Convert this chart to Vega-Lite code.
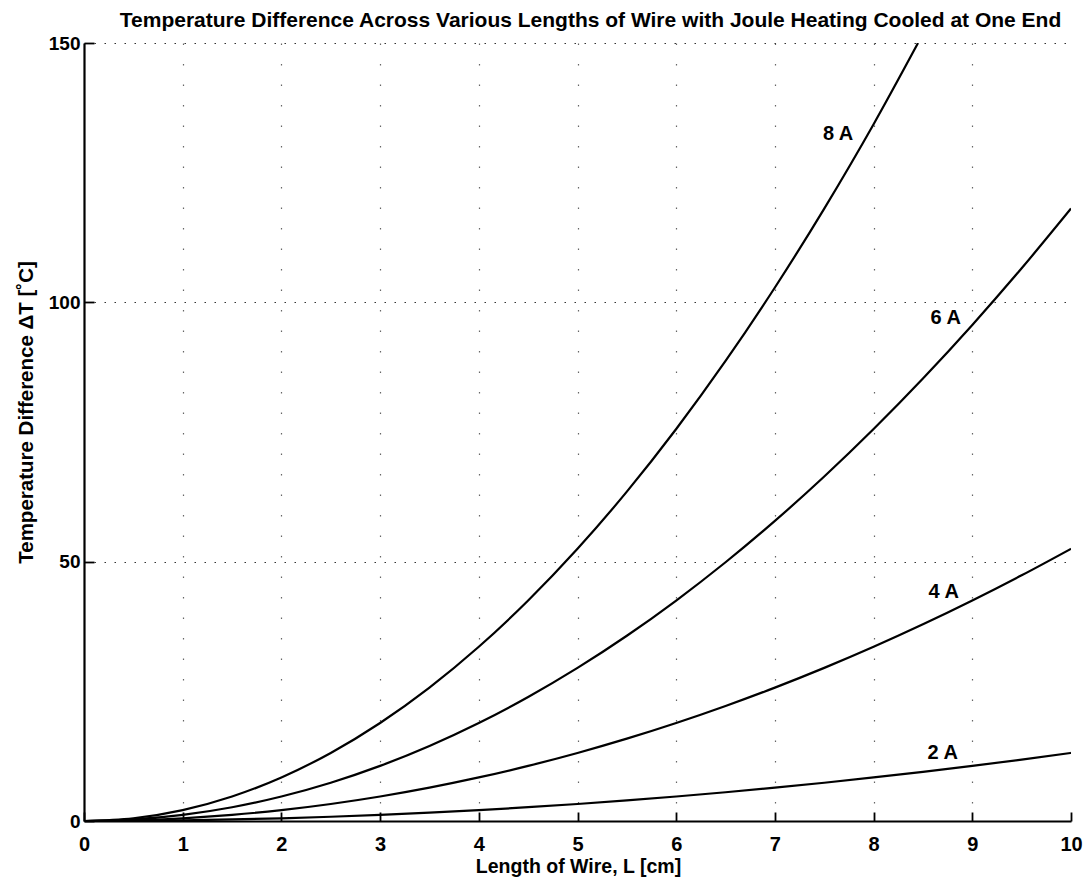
{
  "$schema": "https://vega.github.io/schema/vega-lite/v6.json",
  "width": 987,
  "height": 778,
  "autosize": {"type": "none"},
  "padding": {"left": 84, "top": 43, "right": 16, "bottom": 60},
  "background": "white",
  "config": {
    "view": {"stroke": null},
    "font": "Liberation Sans"
  },
  "title": {
    "text": "Temperature Difference Across Various Lengths of Wire with Joule Heating Cooled at One End",
    "font": "Liberation Sans",
    "fontSize": 21,
    "fontWeight": "bold",
    "color": "black",
    "offset": 3,
    "dx": 13
  },
  "datasets": {
    "curves": [
      {"I": "2 A", "L": 0, "T": 0}, {"I": "2 A", "L": 0.5, "T": 0.033}, {"I": "2 A", "L": 1, "T": 0.131}, {"I": "2 A", "L": 1.5, "T": 0.295}, {"I": "2 A", "L": 2, "T": 0.525}, {"I": "2 A", "L": 2.5, "T": 0.82}, {"I": "2 A", "L": 3, "T": 1.181}, {"I": "2 A", "L": 3.5, "T": 1.607}, {"I": "2 A", "L": 4, "T": 2.099}, {"I": "2 A", "L": 4.5, "T": 2.657}, {"I": "2 A", "L": 5, "T": 3.28}, {"I": "2 A", "L": 5.5, "T": 3.969}, {"I": "2 A", "L": 6, "T": 4.723}, {"I": "2 A", "L": 6.5, "T": 5.543}, {"I": "2 A", "L": 7, "T": 6.429}, {"I": "2 A", "L": 7.5, "T": 7.38}, {"I": "2 A", "L": 8, "T": 8.397}, {"I": "2 A", "L": 8.5, "T": 9.479}, {"I": "2 A", "L": 9, "T": 10.627}, {"I": "2 A", "L": 9.5, "T": 11.841}, {"I": "2 A", "L": 10, "T": 13.12},
      {"I": "4 A", "L": 0, "T": 0}, {"I": "4 A", "L": 0.5, "T": 0.131}, {"I": "4 A", "L": 1, "T": 0.525}, {"I": "4 A", "L": 1.5, "T": 1.181}, {"I": "4 A", "L": 2, "T": 2.099}, {"I": "4 A", "L": 2.5, "T": 3.28}, {"I": "4 A", "L": 3, "T": 4.723}, {"I": "4 A", "L": 3.5, "T": 6.429}, {"I": "4 A", "L": 4, "T": 8.397}, {"I": "4 A", "L": 4.5, "T": 10.627}, {"I": "4 A", "L": 5, "T": 13.12}, {"I": "4 A", "L": 5.5, "T": 15.875}, {"I": "4 A", "L": 6, "T": 18.893}, {"I": "4 A", "L": 6.5, "T": 22.173}, {"I": "4 A", "L": 7, "T": 25.715}, {"I": "4 A", "L": 7.5, "T": 29.52}, {"I": "4 A", "L": 8, "T": 33.587}, {"I": "4 A", "L": 8.5, "T": 37.917}, {"I": "4 A", "L": 9, "T": 42.509}, {"I": "4 A", "L": 9.5, "T": 47.363}, {"I": "4 A", "L": 10, "T": 52.48},
      {"I": "6 A", "L": 0, "T": 0}, {"I": "6 A", "L": 0.5, "T": 0.295}, {"I": "6 A", "L": 1, "T": 1.181}, {"I": "6 A", "L": 1.5, "T": 2.657}, {"I": "6 A", "L": 2, "T": 4.723}, {"I": "6 A", "L": 2.5, "T": 7.38}, {"I": "6 A", "L": 3, "T": 10.627}, {"I": "6 A", "L": 3.5, "T": 14.465}, {"I": "6 A", "L": 4, "T": 18.893}, {"I": "6 A", "L": 4.5, "T": 23.911}, {"I": "6 A", "L": 5, "T": 29.52}, {"I": "6 A", "L": 5.5, "T": 35.719}, {"I": "6 A", "L": 6, "T": 42.509}, {"I": "6 A", "L": 6.5, "T": 49.889}, {"I": "6 A", "L": 7, "T": 57.859}, {"I": "6 A", "L": 7.5, "T": 66.42}, {"I": "6 A", "L": 8, "T": 75.571}, {"I": "6 A", "L": 8.5, "T": 85.313}, {"I": "6 A", "L": 9, "T": 95.645}, {"I": "6 A", "L": 9.5, "T": 106.567}, {"I": "6 A", "L": 10, "T": 118.08},
      {"I": "8 A", "L": 0, "T": 0}, {"I": "8 A", "L": 0.5, "T": 0.525}, {"I": "8 A", "L": 1, "T": 2.099}, {"I": "8 A", "L": 1.5, "T": 4.723}, {"I": "8 A", "L": 2, "T": 8.397}, {"I": "8 A", "L": 2.5, "T": 13.12}, {"I": "8 A", "L": 3, "T": 18.893}, {"I": "8 A", "L": 3.5, "T": 25.715}, {"I": "8 A", "L": 4, "T": 33.587}, {"I": "8 A", "L": 4.5, "T": 42.509}, {"I": "8 A", "L": 5, "T": 52.48}, {"I": "8 A", "L": 5.5, "T": 63.501}, {"I": "8 A", "L": 6, "T": 75.571}, {"I": "8 A", "L": 6.5, "T": 88.691}, {"I": "8 A", "L": 7, "T": 102.861}, {"I": "8 A", "L": 7.5, "T": 118.08}, {"I": "8 A", "L": 8, "T": 134.349}, {"I": "8 A", "L": 8.45, "T": 150}
    ],
    "labels": [
      {"label": "8 A", "L": 7.64, "T": 132.5},
      {"label": "6 A", "L": 8.73, "T": 97.0},
      {"label": "4 A", "L": 8.71, "T": 44.1},
      {"label": "2 A", "L": 8.70, "T": 13.1}
    ]
  },
  "layer": [
    {
      "data": {"name": "curves"},
      "mark": {"type": "line", "color": "black", "strokeWidth": 2.2, "interpolate": "monotone", "clip": true},
      "encoding": {
        "x": {
          "field": "L", "type": "quantitative",
          "scale": {"domain": [0, 10], "nice": false, "zero": false},
          "axis": {
            "title": "Length of Wire, L [cm]",
            "titleFont": "Liberation Sans", "titleFontSize": 19.5, "titleFontWeight": "bold", "titleColor": "black",
            "titleX": 494, "titleY": 45, "titleBaseline": "middle", "titleAnchor": "start", "titleAlign": "center",
            "values": [0, 1, 2, 3, 4, 5, 6, 7, 8, 9, 10], "format": "d",
            "labelFont": "Liberation Sans", "labelFontSize": 20, "labelFontWeight": "bold", "labelColor": "black", "labelPadding": 22, "labelFlush": false,
            "domainColor": "black", "domainWidth": 2.2,
            "tickColor": "black", "tickWidth": 1.8, "tickSize": -9,
            "grid": true, "gridColor": "#666", "gridDash": [1.5, 19], "gridWidth": 1.2,
            "gridOpacity": {"condition": {"test": "datum.value === 10 || datum.value === 0", "value": 0}, "value": 1}
          }
        },
        "y": {
          "field": "T", "type": "quantitative",
          "scale": {"domain": [0, 150], "nice": false},
          "axis": {
            "title": "Temperature Difference ΔT [˚C]",
            "titleFont": "Liberation Sans", "titleFontSize": 20.5, "titleFontWeight": "bold", "titleColor": "black",
            "titleX": -58, "titleY": 369, "titleBaseline": "middle", "titleAnchor": "start", "titleAlign": "center",
            "values": [0, 50, 100, 150], "format": "d",
            "labelFont": "Liberation Sans", "labelFontSize": 19, "labelFontWeight": "bold", "labelColor": "black", "labelPadding": 14, "labelFlush": false,
            "domainColor": "black", "domainWidth": 2.2,
            "tickColor": "black", "tickWidth": 1.8, "tickSize": -10,
            "grid": true, "gridColor": "#333", "gridDash": [1.5, 8.5], "gridWidth": 1.2,
            "gridOpacity": {"condition": {"test": "datum.value === 0", "value": 0}, "value": 1}
          }
        },
        "detail": {"field": "I"}
      }
    },
    {
      "data": {"name": "labels"},
      "mark": {"type": "text", "font": "Liberation Sans", "fontSize": 20, "fontWeight": "bold", "color": "black", "align": "center", "baseline": "middle"},
      "encoding": {
        "x": {"field": "L", "type": "quantitative"},
        "y": {"field": "T", "type": "quantitative"},
        "text": {"field": "label"}
      }
    }
  ]
}
